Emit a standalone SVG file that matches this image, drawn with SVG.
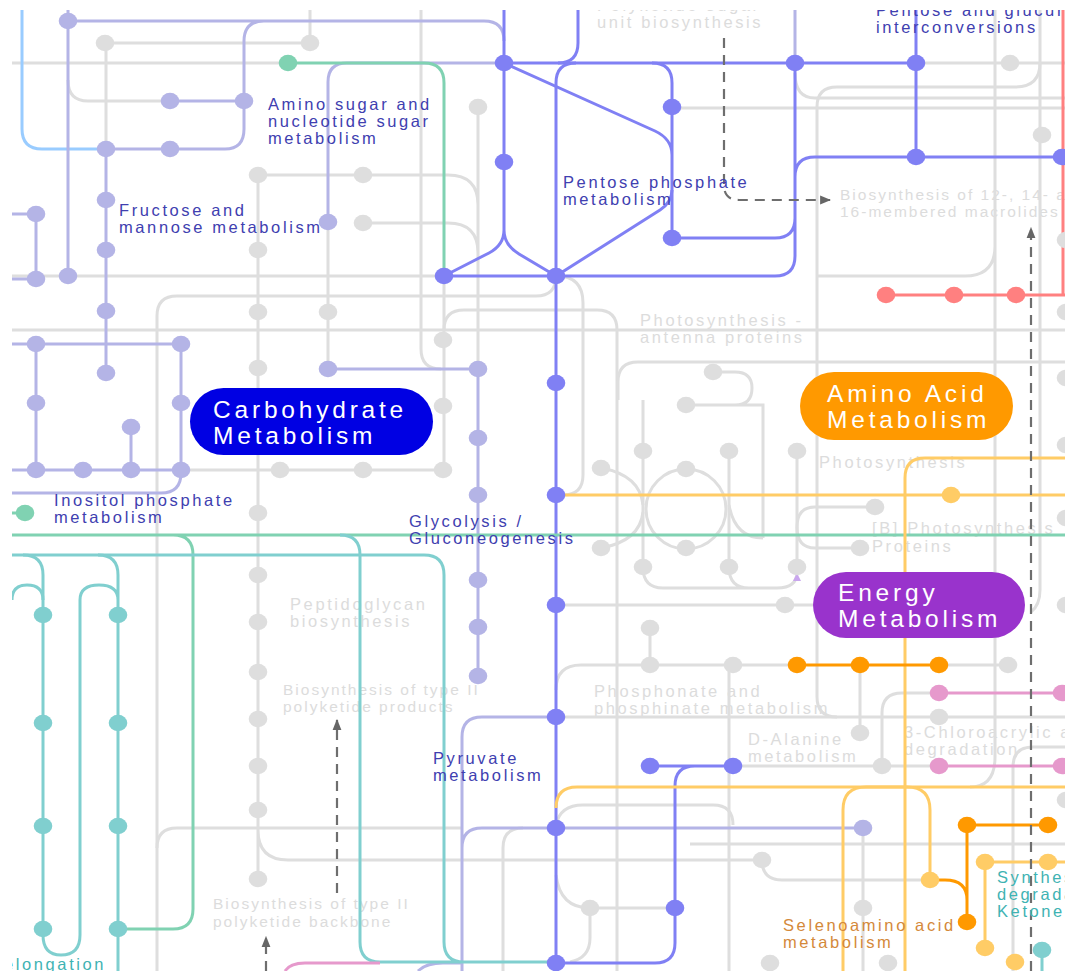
<svg xmlns="http://www.w3.org/2000/svg" xmlns:xlink="http://www.w3.org/1999/xlink" width="1065" height="971" viewBox="0 0 1065 971">
<defs>
<style>
.c{fill:none;stroke-width:3}
.g{stroke:#dedede}.lp{stroke:#b4b4e6}.bp{stroke:#8080f4}.gr{stroke:#80d2b2}.tl{stroke:#80cfcf}
.lb{stroke:#99ccff}.yl{stroke:#ffcc66}.or{stroke:#ff9900}.rd{stroke:#ff8080}.pk{stroke:#e699cc}
.da{fill:none;stroke:#6e6e6e;stroke-width:2.2;stroke-dasharray:10 7}
.fg{fill:#dedede}.flp{fill:#b4b4e6}.fbp{fill:#8080f4}.fgr{fill:#80d2b2}.ftl{fill:#80cfcf}
.fyl{fill:#ffcc66}.for{fill:#ff9900}.frd{fill:#ff8080}.fpk{fill:#e699cc}
.t{font-family:"Liberation Sans",Arial,Helvetica,sans-serif;font-size:16.5px;letter-spacing:2.6px}
.sm{font-size:15.5px;letter-spacing:2px}
.tb{fill:#4040b0}.tg{fill:#dcdcdc}.to{fill:#d4893a}.tt{fill:#3fb3b3}
.big{font-family:"Liberation Sans",Arial,Helvetica,sans-serif;font-size:24.5px;letter-spacing:3.8px;fill:#ffffff}
</style>
<ellipse id="d" rx="9.3" ry="8.3"/>
<marker id="ah" viewBox="0 0 10 10" refX="9" refY="5" markerWidth="5" markerHeight="5" orient="auto"><path d="M0,1 L10,5 L0,9 z" fill="#666"/></marker>
<clipPath id="clip"><rect x="12" y="10" width="1053" height="961"/></clipPath>
</defs>
<rect width="1065" height="971" fill="#ffffff"/>
<g clip-path="url(#clip)">
<g id="bg-labels" class="t tg">
<text x="597" y="11">Polyketide sugar</text><text x="597" y="28">unit biosynthesis</text>
<text class="sm" x="840" y="200">Biosynthesis of 12-, 14- and</text><text class="sm" x="840" y="217">16-membered macrolides</text>
<text x="640" y="326">Photosynthesis -</text><text x="640" y="343">antenna proteins</text>
<text x="819" y="468">Photosynthesis</text>
<text x="872" y="534">[B] Photosynthesis</text><text x="872" y="552">Proteins</text>
<text x="290" y="610">Peptidoglycan</text><text x="290" y="627">biosynthesis</text>
<text class="sm" x="283" y="695">Biosynthesis of type II</text><text class="sm" x="283" y="712">polyketide products</text>
<text x="594" y="697">Phosphonate and</text><text x="594" y="714">phosphinate metabolism</text>
<text x="748" y="745">D-Alanine</text><text x="748" y="762">metabolism</text>
<text x="904" y="738">3-Chloroacrylic acid</text><text x="904" y="755">degradation</text>
<text class="sm" x="213" y="909">Biosynthesis of type II</text><text class="sm" x="213" y="927">polyketide backbone</text>
</g>
<g id="connectors">
<g class="c g">
<path d="M12 63H288M105 43H310V10M106 43V149M68 80Q68 101 88 101H170M12 276H444"/>
<path d="M258 175H448Q478 175 478 205V369M363 223H448Q478 223 478 253M478 107V369"/>
<path d="M258 175V879M258 830Q258 860 288 860H762M157 971V316Q157 296 177 296H536Q556 296 556 276"/>
<path d="M12 330H1065M328 222V369M421 10V349Q421 369 441 369M444 276V470H181"/>
<path d="M556 276Q583 276 583 303V475Q583 495 563 495M444 330Q444 310 464 310H597Q617 310 617 330V971"/>
<path d="M618 400V382Q618 362 638 362H1065M795 73Q795 98 815 98H1065M672 108H1065"/>
<path d="M817 697V107Q817 87 837 87H1015Q1040 87 1040 63M817 697Q817 717 837 717"/>
<path d="M995 10V757Q995 787 970 787M995 246Q995 276 965 276H817M1040 10V590Q1040 605 1031 612M916 63H1065"/>
<path d="M556 605H813M643 400V567Q643 588 663 588H777Q797 588 797 572M729 451V567Q729 588 749 588"/>
<path d="M797 451V567M601 468Q640 475 643 505M601 548Q640 541 643 512M729 505Q735 538 763 538"/>
<path d="M686 405H763V538M713 372H735Q752 372 752 388Q752 405 735 405"/>
<path d="M875 507H815Q797 507 797 527Q797 548 815 548H860"/>
<circle cx="686" cy="509" r="40"/>
<path d="M556 690Q556 665 581 665H797M650 628V665M939 665H1008M556 717H1065M860 665V733M729 665V971"/>
<path d="M733 766H939M882 766V713Q882 693 902 693H939M556 825Q560 805 583 805H713Q733 805 733 825"/>
<path d="M690 844H1065M762 860Q762 880 782 880H930M863 828V971M1013 971V767Q1013 747 1033 747H1065"/>
<path d="M157 848Q157 828 177 828H462M503 971V848Q503 828 523 828M556 875Q560 908 590 908H675M590 908V938Q590 958 570 962"/>
</g>
<path class="c lb" d="M22 10V129Q22 149 42 149H106"/>
<g class="c lp">
<path d="M68 10V276M68 21H484Q504 21 504 41M106 149H225Q244 149 244 129V41Q244 21 264 21M170 101H244M106 149V373"/>
<path d="M328 222V82Q328 63 347 63H504M795 10V63"/>
<path d="M12 344H181V470M36 344V470M12 470H181M131 427V470M12 493H161Q181 493 181 473M12 214H36V279H12"/>
<path d="M328 369H478V676M556 717H482Q462 717 462 737V971M462 848Q462 828 482 828H863M418 971Q426 963 443 963H462"/>
</g>
<g class="c bp">
<path d="M504 10V230Q504 245 489 253L444 276M504 230Q504 245 519 254L556 276"/>
<path d="M444 276H775Q795 276 795 256V63M672 238H775Q795 238 795 218M795 177Q795 157 815 157H1065M916 10V157M504 63H916"/>
<path d="M578 10V43Q578 63 558 63M504 63L655 131Q672 139 672 155M652 63Q672 63 672 83V238"/>
<path d="M576 63Q556 63 556 83V971M556 276L660 210Q672 202 672 190"/>
<path d="M650 766H733M695 766Q675 766 675 786V943Q675 963 655 963H556"/>
</g>
<g class="c gr">
<path d="M288 63H424Q444 63 444 83V276M12 535H1065M173 535Q193 535 193 555V909Q193 929 173 929H118M12 513H25"/>
</g>
<g class="c tl">
<path d="M340 535Q360 535 360 555V942Q360 962 380 962H556M12 555H424Q444 555 444 575V942Q444 962 464 962H556"/>
<path d="M23 555Q43 555 43 575V935Q43 955 61 955Q80 955 80 935V600Q80 585 99 585Q118 585 118 600M98 555Q118 555 118 575V971"/>
<path d="M12 600Q12 585 27 585Q43 585 43 600M1042 950V971"/>
</g>
<g class="c yl">
<path d="M556 495H1065M905 971V478Q905 458 925 458H1065M556 808Q556 787 577 787H1065"/>
<path d="M843 971V810Q843 787 866 787H907Q930 787 930 810V880M985 862H1065M985 862V948"/>
</g>
<g class="c or"><path d="M797 665H939M967 825H1048M967 825V922M930 880H945Q967 880 967 900"/></g>
<g class="c rd"><path d="M1063 10V295M886 295H1065"/></g>
<g class="c pk"><path d="M939 693H1065M939 766H1065M285 971Q290 963 305 963H380"/></g>
<g id="dashed-arrows">
<path class="da" d="M724 38V185Q724 200 739 200H830" marker-end="url(#ah)"/>
<path class="da" d="M1031 971V228" marker-end="url(#ah)"/>
<path class="da" d="M337 893V720" marker-end="url(#ah)"/>
<path class="da" d="M266 971V937" marker-end="url(#ah)"/>
<path d="M793 581L797 573L801 581Z" fill="#c9a6ee"/>
</g>
</g>
<g id="compounds">
<g id="gray-nodes" class="fg">
<use href="#d" x="105" y="43"/><use href="#d" x="310" y="43"/><use href="#d" x="258" y="175"/><use href="#d" x="363" y="175"/>
<use href="#d" x="363" y="223"/><use href="#d" x="478" y="107"/><use href="#d" x="258" y="250"/><use href="#d" x="258" y="312"/>
<use href="#d" x="328" y="312"/><use href="#d" x="258" y="368"/><use href="#d" x="443" y="340"/><use href="#d" x="443" y="406"/>
<use href="#d" x="443" y="470"/><use href="#d" x="363" y="470"/><use href="#d" x="280" y="470"/><use href="#d" x="258" y="513"/>
<use href="#d" x="258" y="575"/><use href="#d" x="258" y="622"/><use href="#d" x="258" y="672"/><use href="#d" x="258" y="719"/>
<use href="#d" x="258" y="766"/><use href="#d" x="258" y="810"/><use href="#d" x="258" y="879"/><use href="#d" x="1010" y="63"/>
<use href="#d" x="1042" y="135"/><use href="#d" x="1066" y="240"/><use href="#d" x="1066" y="312"/><use href="#d" x="1066" y="378"/>
<use href="#d" x="1066" y="445"/><use href="#d" x="1066" y="518"/><use href="#d" x="1066" y="605"/><use href="#d" x="1066" y="800"/>
<use href="#d" x="713" y="372"/><use href="#d" x="686" y="405"/><use href="#d" x="643" y="451"/><use href="#d" x="729" y="451"/>
<use href="#d" x="797" y="451"/><use href="#d" x="643" y="567"/><use href="#d" x="729" y="567"/><use href="#d" x="797" y="567"/>
<use href="#d" x="601" y="468"/><use href="#d" x="601" y="548"/><use href="#d" x="686" y="469"/><use href="#d" x="686" y="548"/>
<use href="#d" x="875" y="507"/><use href="#d" x="860" y="548"/><use href="#d" x="785" y="605"/><use href="#d" x="650" y="628"/>
<use href="#d" x="650" y="665"/><use href="#d" x="733" y="665"/><use href="#d" x="1008" y="665"/><use href="#d" x="860" y="733"/>
<use href="#d" x="882" y="766"/><use href="#d" x="939" y="717"/><use href="#d" x="762" y="860"/><use href="#d" x="863" y="908"/>
<use href="#d" x="590" y="908"/><use href="#d" x="770" y="963"/><use href="#d" x="888" y="963"/>
</g>
<g id="carb-nodes" class="flp">
<use href="#d" x="68" y="21"/><use href="#d" x="68" y="276"/><use href="#d" x="106" y="149"/><use href="#d" x="170" y="149"/>
<use href="#d" x="170" y="101"/><use href="#d" x="244" y="101"/><use href="#d" x="106" y="200"/><use href="#d" x="106" y="250"/>
<use href="#d" x="106" y="311"/><use href="#d" x="106" y="373"/><use href="#d" x="36" y="214"/><use href="#d" x="36" y="279"/>
<use href="#d" x="328" y="222"/><use href="#d" x="36" y="344"/><use href="#d" x="181" y="344"/><use href="#d" x="36" y="403"/>
<use href="#d" x="181" y="403"/><use href="#d" x="131" y="427"/><use href="#d" x="36" y="470"/><use href="#d" x="83" y="470"/>
<use href="#d" x="131" y="470"/><use href="#d" x="181" y="470"/><use href="#d" x="328" y="369"/><use href="#d" x="478" y="369"/>
<use href="#d" x="478" y="438"/><use href="#d" x="478" y="495"/><use href="#d" x="478" y="580"/><use href="#d" x="478" y="627"/>
<use href="#d" x="478" y="676"/><use href="#d" x="863" y="828"/>
</g>
<g id="glyco-nodes" class="fbp">
<use href="#d" x="504" y="63"/><use href="#d" x="795" y="63"/><use href="#d" x="916" y="63"/><use href="#d" x="504" y="162"/>
<use href="#d" x="672" y="107"/><use href="#d" x="672" y="238"/><use href="#d" x="444" y="276"/><use href="#d" x="556" y="276"/>
<use href="#d" x="916" y="157"/><use href="#d" x="1062" y="157"/><use href="#d" x="556" y="383"/><use href="#d" x="556" y="495"/>
<use href="#d" x="556" y="605"/><use href="#d" x="556" y="717"/><use href="#d" x="556" y="828"/><use href="#d" x="556" y="963"/>
<use href="#d" x="650" y="766"/><use href="#d" x="733" y="766"/><use href="#d" x="675" y="908"/>
</g>
<g id="green-nodes" class="fgr"><use href="#d" x="288" y="63"/><use href="#d" x="25" y="513"/></g>
<g id="teal-nodes" class="ftl">
<use href="#d" x="43" y="615"/><use href="#d" x="43" y="723"/><use href="#d" x="43" y="826"/><use href="#d" x="43" y="929"/>
<use href="#d" x="118" y="615"/><use href="#d" x="118" y="723"/><use href="#d" x="118" y="826"/><use href="#d" x="118" y="929"/>
<use href="#d" x="1042" y="950"/>
</g>
<g id="yellow-nodes" class="fyl">
<use href="#d" x="951" y="495"/><use href="#d" x="930" y="880"/><use href="#d" x="985" y="862"/><use href="#d" x="1048" y="862"/>
<use href="#d" x="985" y="948"/><use href="#d" x="1015" y="962"/>
</g>
<g id="orange-nodes" class="for">
<use href="#d" x="797" y="665"/><use href="#d" x="860" y="665"/><use href="#d" x="939" y="665"/>
<use href="#d" x="967" y="825"/><use href="#d" x="1048" y="825"/><use href="#d" x="967" y="922"/>
</g>
<g id="red-nodes" class="frd"><use href="#d" x="886" y="295"/><use href="#d" x="954" y="295"/><use href="#d" x="1016" y="295"/></g>
<g id="pink-nodes" class="fpk">
<use href="#d" x="939" y="693"/><use href="#d" x="1062" y="693"/><use href="#d" x="939" y="766"/><use href="#d" x="1062" y="766"/>
</g>
</g>
<g id="pathway-labels" class="t tb">
<g id="amino-sugar"><text x="268" y="110">Amino sugar and</text><text x="268" y="127">nucleotide sugar</text><text x="268" y="144">metabolism</text></g>
<g id="fructose"><text x="119" y="216">Fructose and</text><text x="119" y="233">mannose metabolism</text></g>
<g id="pentose-phosphate"><text x="563" y="188">Pentose phosphate</text><text x="563" y="205">metabolism</text></g>
<g id="pentose-glucuronate"><text x="876" y="16">Pentose and glucuronate</text><text x="876" y="33">interconversions</text></g>
<g id="inositol"><text x="54" y="506">Inositol phosphate</text><text x="54" y="523">metabolism</text></g>
<g id="glycolysis"><text x="409" y="527">Glycolysis /</text><text x="409" y="544">Gluconeogenesis</text></g>
<g id="pyruvate"><text x="433" y="764">Pyruvate</text><text x="433" y="781">metabolism</text></g>
<g id="selenoamino" class="to"><text x="783" y="931">Selenoamino acid</text><text x="783" y="948">metabolism</text></g>
<g id="ketone" class="tt"><text x="997" y="883">Synthesis and</text><text x="997" y="900">degradation of</text><text x="997" y="917">Ketone bodies</text></g>
<g id="elongation" class="tt"><text x="4" y="970">elongation</text></g>
</g>
<g id="carbohydrate-metabolism"><rect x="190" y="388" width="243" height="67" rx="33.5" fill="#0000e3"/><text class="big" x="213" y="418">Carbohydrate</text><text class="big" x="213" y="444">Metabolism</text></g>
<g id="amino-acid-metabolism"><rect x="800" y="372" width="213" height="68" rx="34" fill="#ff9900"/><text class="big" x="827" y="402">Amino Acid</text><text class="big" x="827" y="428">Metabolism</text></g>
<g id="energy-metabolism"><rect x="813" y="572" width="212" height="66" rx="33" fill="#9933cc"/><text class="big" x="838" y="601">Energy</text><text class="big" x="838" y="627">Metabolism</text></g>
</g>
</svg>
